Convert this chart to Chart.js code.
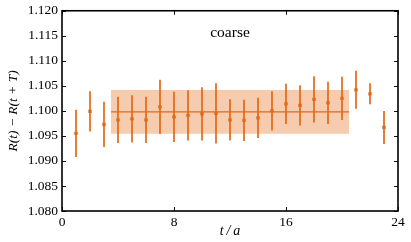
<!DOCTYPE html>
<html>
<head>
<meta charset="utf-8">
<script src="https://cdn.jsdelivr.net/npm/chart.js@4"></script>
<style>
html,body{margin:0;padding:0;background:#fff;}
#wrap{width:411px;height:242px;position:relative;}
</style>
</head>
<body>
<div id="wrap"><canvas id="c" width="411" height="242"></canvas></div>
<script>
const tVals = [1,2,3,4,5,6,7,8,9,10,11,12,13,14,15,16,17,18,19,20,21,22,23];
const ratioVals = [1.0955,1.0999,1.0973,1.0982,1.0984,1.0982,1.1008,1.0988,1.0991,1.0994,1.0995,1.0982,1.0981,1.0986,1.1000,1.1014,1.1011,1.1023,1.1016,1.1025,1.1042,1.1034,1.0967];
const ratioErrs = [0.0047,0.0040,0.0045,0.0046,0.0047,0.0046,0.0054,0.0050,0.0050,0.0053,0.0060,0.0041,0.0041,0.0040,0.0039,0.0040,0.0040,0.0046,0.0042,0.0043,0.0038,0.0021,0.0033];
const fitRange = [3.5, 20.5];
const fitValue = 1.0998;
const fitErr = 0.00438;
const yTicks = [1.080,1.085,1.090,1.095,1.100,1.105,1.110,1.115,1.120];
const xTicks = [0,8,16,24];
const label = 'coarse';

const ORANGE = 'rgb(228,104,20)';
const BAND = 'rgba(232,112,30,0.36)';
const SERIF = '"Liberation Serif","DejaVu Serif",serif';

const pts = tVals.map((t,i)=>({x:t,y:ratioVals[i]}));

const errPlugin = {
  id:'errbars',
  afterDatasetsDraw(chart){
    const {ctx, scales:{x,y}} = chart;
    ctx.save();
    ctx.strokeStyle = ORANGE;
    ctx.lineWidth = 1.7;
    tVals.forEach((t,i)=>{
      const px = x.getPixelForValue(t);
      ctx.beginPath();
      ctx.moveTo(px, y.getPixelForValue(ratioVals[i]-ratioErrs[i]));
      ctx.lineTo(px, y.getPixelForValue(ratioVals[i]+ratioErrs[i]));
      ctx.stroke();
    });
    ctx.restore();
  },
  afterDraw(chart){
    const {ctx, chartArea:a, scales:{x,y}} = chart;
    ctx.save();
    ctx.strokeStyle = '#111';
    ctx.lineWidth = 1;
    const tl = 4;
    ctx.beginPath();
    yTicks.forEach(v=>{
      const py = Math.round(y.getPixelForValue(v))+0.5;
      ctx.moveTo(a.left, py); ctx.lineTo(a.left+tl, py);
      ctx.moveTo(a.right, py); ctx.lineTo(a.right-tl, py);
    });
    xTicks.forEach(v=>{
      const px = Math.round(x.getPixelForValue(v))+0.5;
      ctx.moveTo(px, a.bottom); ctx.lineTo(px, a.bottom-tl);
      ctx.moveTo(px, a.top); ctx.lineTo(px, a.top+tl);
    });
    ctx.stroke();
    ctx.strokeStyle = '#000';
    ctx.lineWidth = 1.6;
    ctx.strokeRect(a.left, a.top, a.right-a.left, a.bottom-a.top);
    ctx.fillStyle = '#000';
    ctx.font = '15.5px ' + SERIF;
    ctx.textAlign = 'center';
    ctx.textBaseline = 'middle';
    ctx.fillText(label, x.getPixelForValue(12), y.getPixelForValue(1.1155));
    ctx.restore();
  }
};

new Chart(document.getElementById('c'), {
  type:'scatter',
  data:{
    datasets:[
      {data:[{x:fitRange[0],y:fitValue+fitErr},{x:fitRange[1],y:fitValue+fitErr}], showLine:true, borderWidth:0, borderColor:'rgba(0,0,0,0)', pointRadius:0, fill:false, order:3},
      {data:[{x:fitRange[0],y:fitValue-fitErr},{x:fitRange[1],y:fitValue-fitErr}], showLine:true, borderWidth:0, borderColor:'rgba(0,0,0,0)', pointRadius:0, fill:'-1', backgroundColor:BAND, order:3},
      {data:[{x:fitRange[0],y:fitValue},{x:fitRange[1],y:fitValue}], showLine:true, borderWidth:1.3, borderColor:ORANGE, pointRadius:0, fill:false, order:2},
      {data:pts, showLine:false, pointStyle:'rect', pointRadius:2.4, backgroundColor:ORANGE, borderColor:ORANGE, borderWidth:0, order:1}
    ]
  },
  options:{
    responsive:false,
    animation:false,
    layout:{padding:{top:7,right:13,left:0,bottom:0}},
    plugins:{legend:{display:false}, tooltip:{enabled:false}},
    scales:{
      x:{
        type:'linear', min:0, max:24,
        afterBuildTicks(s){ s.ticks = xTicks.map(v=>({value:v})); },
        afterFit(s){ s.height = 31; },
        grid:{display:false, drawTicks:false},
        border:{display:false},
        ticks:{color:'#000', font:{family:SERIF, size:13.5, lineHeight:1}, padding:5, maxRotation:0, autoSkip:false},
        title:{display:true, text:'t\u2009/\u2009a', color:'#000', font:{family:SERIF, size:14, style:'italic', lineHeight:1.2}, padding:{top:0,bottom:2}}
      },
      y:{
        type:'linear', min:1.08, max:1.12,
        afterBuildTicks(s){ s.ticks = yTicks.map(v=>({value:v})); },
        afterFit(s){ s.width = 62; },
        grid:{display:false, drawTicks:false},
        border:{display:false},
        ticks:{color:'#000', font:{family:SERIF, size:13.5, lineHeight:1}, padding:4, autoSkip:false, callback:v=>v.toFixed(3)},
        title:{display:true, text:'R(t) − R(t + T)', color:'#000', font:{family:SERIF, size:13.5, style:'italic', lineHeight:1.2}, padding:{top:5,bottom:0}}
      }
    }
  },
  plugins:[errPlugin]
});
</script>
</body>
</html>
